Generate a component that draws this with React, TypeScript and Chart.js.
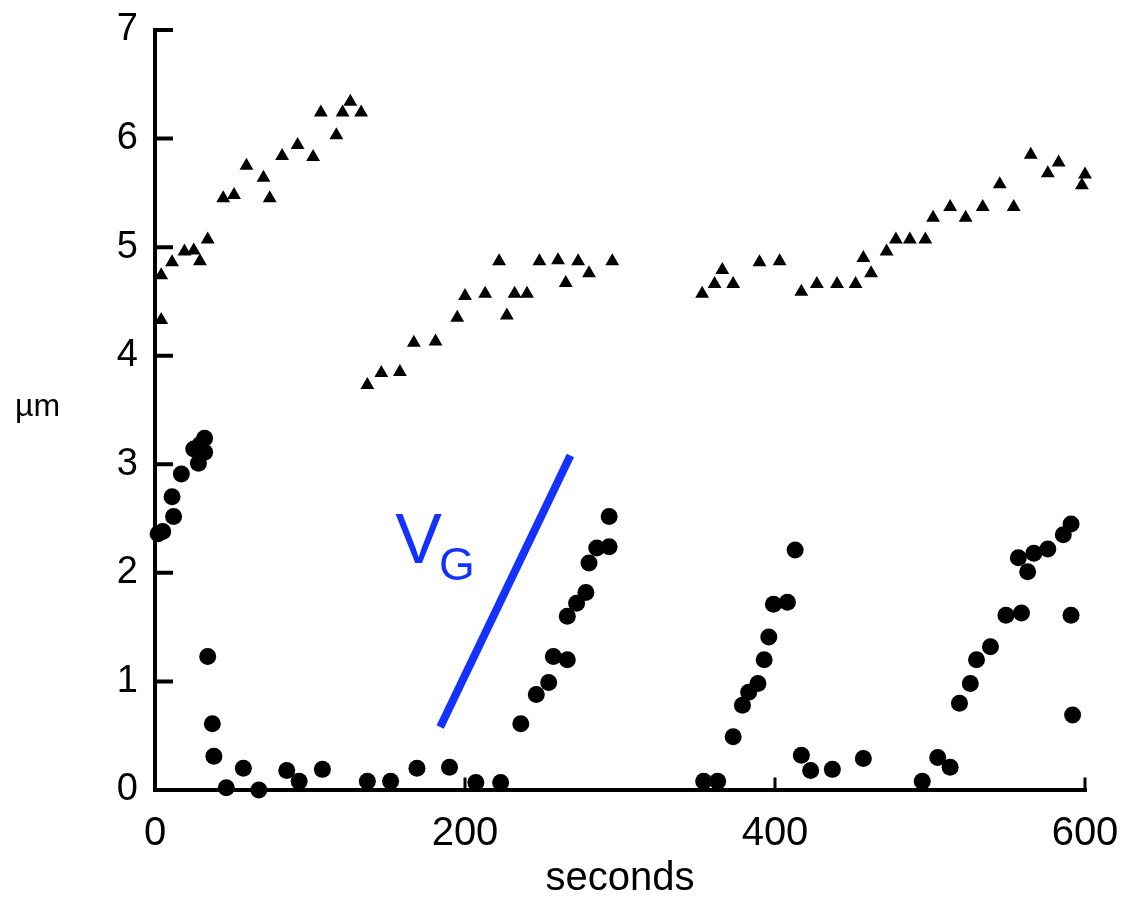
import React, { useEffect, useRef } from "react";
import { Chart, registerables } from "chart.js";

Chart.register(...registerables);

// ---- data (seconds, µm) ----
const X_TICKS = [0, 200, 400, 600];
const Y_TICKS = [0, 1, 2, 3, 4, 5, 6, 7];

const triangleTimes = [
  4, 4, 11, 19, 25, 29, 34, 44, 51, 59, 70, 74, 82, 92, 102, 107, 117, 121, 126, 133,
  137, 146, 158, 167, 181, 195, 200, 213, 222, 227, 232, 240, 248, 260, 265, 273, 280, 295,
  353, 361, 366, 373, 390, 403, 417, 427, 440, 452, 457, 462, 472, 478, 487, 497, 502, 513,
  523, 534, 545, 554, 565, 576, 583, 598, 600,
];
const triangleValues = [
  4.33, 4.74, 4.86, 4.96, 4.97, 4.87, 5.07, 5.45, 5.48, 5.75, 5.64, 5.45, 5.84, 5.94, 5.83, 6.24, 6.03, 6.24, 6.34, 6.24,
  3.73, 3.84, 3.85, 4.12, 4.13, 4.35, 4.55, 4.57, 4.87, 4.37, 4.57, 4.57, 4.87, 4.88, 4.67, 4.87, 4.76, 4.87,
  4.57, 4.66, 4.79, 4.66, 4.86, 4.87, 4.59, 4.66, 4.66, 4.66, 4.9, 4.76, 4.96, 5.07, 5.07, 5.07, 5.27, 5.37,
  5.27, 5.37, 5.58, 5.37, 5.85, 5.68, 5.78, 5.57, 5.67,
];

const circleTimes = [
  2, 5, 11, 12, 17, 25, 29, 32, 32, 28,
  34, 37, 38, 46, 57, 67, 85, 93, 108, 137, 152, 169, 190, 207, 223,
  236, 246, 254, 257, 266, 266, 272, 278, 280, 285, 293, 293,
  354, 363,
  373, 379, 383, 389, 393, 396, 399, 408, 413,
  417, 423, 437, 457, 495, 505, 513,
  519, 526, 530, 539, 549, 559, 557, 563, 567, 576, 586, 591, 591, 592,
];
const circleValues = [
  2.36, 2.38, 2.7, 2.52, 2.91, 3.14, 3.18, 3.24, 3.11, 3.01,
  1.23, 0.61, 0.31, 0.02, 0.2, 0.0, 0.18, 0.08, 0.19, 0.08, 0.08, 0.2, 0.21, 0.07, 0.07,
  0.61, 0.88, 0.99, 1.23, 1.2, 1.6, 1.72, 1.82, 2.09, 2.23, 2.24, 2.52,
  0.08, 0.08,
  0.49, 0.78, 0.9, 0.98, 1.2, 1.41, 1.71, 1.73, 2.21,
  0.32, 0.18, 0.19, 0.29, 0.08, 0.3, 0.21,
  0.8, 0.98, 1.2, 1.32, 1.61, 1.63, 2.14, 2.01, 2.18, 2.22, 2.35, 2.45, 1.61, 0.69,
];

// V_G velocity guide line
const vgTimes = [184, 268];
const vgValues = [0.58, 3.08];
const VG_LABEL_TIME = 155;
const VG_LABEL_VALUE = 2.09;

const BLUE = "rgb(20, 50, 255)";
const FONT = "'Liberation Sans Narrow', 'Liberation Sans', Arial, sans-serif";

const zip = (xs: number[], ys: number[]) => xs.map((x, i) => ({ x, y: ys[i] }));

const decorPlugin = {
  id: "decor",
  beforeDatasetsDraw(chart: any) {
    const { ctx, chartArea, scales } = chart;
    const { left, right, top, bottom } = chartArea;
    const x = scales.x;
    const y = scales.y;
    ctx.save();
    ctx.strokeStyle = "#000";
    ctx.lineCap = "square";
    ctx.lineWidth = 4;
    ctx.beginPath();
    ctx.moveTo(left, top);
    ctx.lineTo(left, bottom);
    ctx.lineTo(right, bottom);
    ctx.stroke();
    ctx.beginPath();
    Y_TICKS.forEach((v) => {
      if (v === 0) return;
      const py = y.getPixelForValue(v);
      ctx.moveTo(left, py);
      ctx.lineTo(left + 16, py);
    });
    ctx.stroke();
    ctx.lineWidth = 3;
    ctx.beginPath();
    X_TICKS.forEach((v) => {
      if (v === 0) return;
      const px = x.getPixelForValue(v);
      ctx.moveTo(px, bottom);
      ctx.lineTo(px, bottom - 11);
    });
    ctx.stroke();

    // axis titles
    ctx.fillStyle = "#000";
    ctx.font = `32px ${FONT}`;
    ctx.textAlign = "left";
    ctx.textBaseline = "alphabetic";
    ctx.fillText("µm", 15, 416);
    ctx.font = `40px ${FONT}`;
    ctx.textAlign = "center";
    ctx.fillText("seconds", (left + right) / 2, 890);
    ctx.restore();
  },
  afterDatasetsDraw(chart: any) {
    const { ctx, scales } = chart;
    const px = scales.x.getPixelForValue(VG_LABEL_TIME);
    const py = scales.y.getPixelForValue(VG_LABEL_VALUE);
    ctx.save();
    ctx.fillStyle = BLUE;
    ctx.textAlign = "left";
    ctx.textBaseline = "alphabetic";
    ctx.font = `70px 'Liberation Sans', Arial, sans-serif`;
    ctx.fillText("V", px, py);
    const w = ctx.measureText("V").width;
    ctx.font = `46px 'Liberation Sans', Arial, sans-serif`;
    ctx.fillText("G", px + w - 3, py + 17);
    ctx.restore();
  },
};

export default function App() {
  const ref = useRef<HTMLCanvasElement | null>(null);

  useEffect(() => {
    document.body.style.margin = "0";
    if (!ref.current) return;
    const chart = new Chart(ref.current, {
      type: "scatter",
      data: {
        datasets: [
          {
            label: "triangles",
            data: zip(triangleTimes, triangleValues),
            pointStyle: "triangle",
            pointRadius: 8,
            backgroundColor: "#000",
            borderColor: "#000",
            borderWidth: 0,
            clip: false as any,
          },
          {
            label: "circles",
            data: zip(circleTimes, circleValues),
            pointStyle: "circle",
            pointRadius: 8.5,
            backgroundColor: "#000",
            borderColor: "#000",
            borderWidth: 0,
            clip: false as any,
          },
          {
            label: "VG",
            data: zip(vgTimes, vgValues),
            showLine: true,
            pointRadius: 0,
            borderColor: BLUE,
            borderWidth: 8,
            clip: false as any,
          },
        ],
      },
      options: {
        animation: false,
        responsive: true,
        maintainAspectRatio: false,
        layout: { padding: { top: 30, right: 39, left: 0, bottom: 0 } },
        plugins: { legend: { display: false }, tooltip: { enabled: false } },
        scales: {
          x: {
            type: "linear",
            min: 0,
            max: 600,
            afterFit: (s: any) => {
              s.height = 109;
              s.paddingLeft = 0;
              s.paddingRight = 0;
            },
            afterBuildTicks: (s: any) => {
              s.ticks = X_TICKS.map((v) => ({ value: v }));
            },
            grid: { display: false, drawTicks: false },
            border: { display: false },
            ticks: {
              color: "#000",
              padding: 20,
              font: { family: FONT, size: 40 },
              maxRotation: 0,
            },
          },
          y: {
            type: "linear",
            min: 0,
            max: 7,
            afterFit: (s: any) => {
              s.width = 155;
              s.paddingTop = 0;
              s.paddingBottom = 0;
            },
            afterBuildTicks: (s: any) => {
              s.ticks = Y_TICKS.map((v) => ({ value: v }));
            },
            grid: { display: false, drawTicks: false },
            border: { display: false },
            ticks: {
              color: "#000",
              padding: 17,
              font: { family: FONT, size: 38 },
            },
          },
        },
      },
      plugins: [decorPlugin],
    });
    return () => chart.destroy();
  }, []);

  return (
    <div style={{ position: "fixed", left: 0, top: 0, width: 1124, height: 899, background: "#fff" }}>
      <canvas ref={ref} />
    </div>
  );
}
